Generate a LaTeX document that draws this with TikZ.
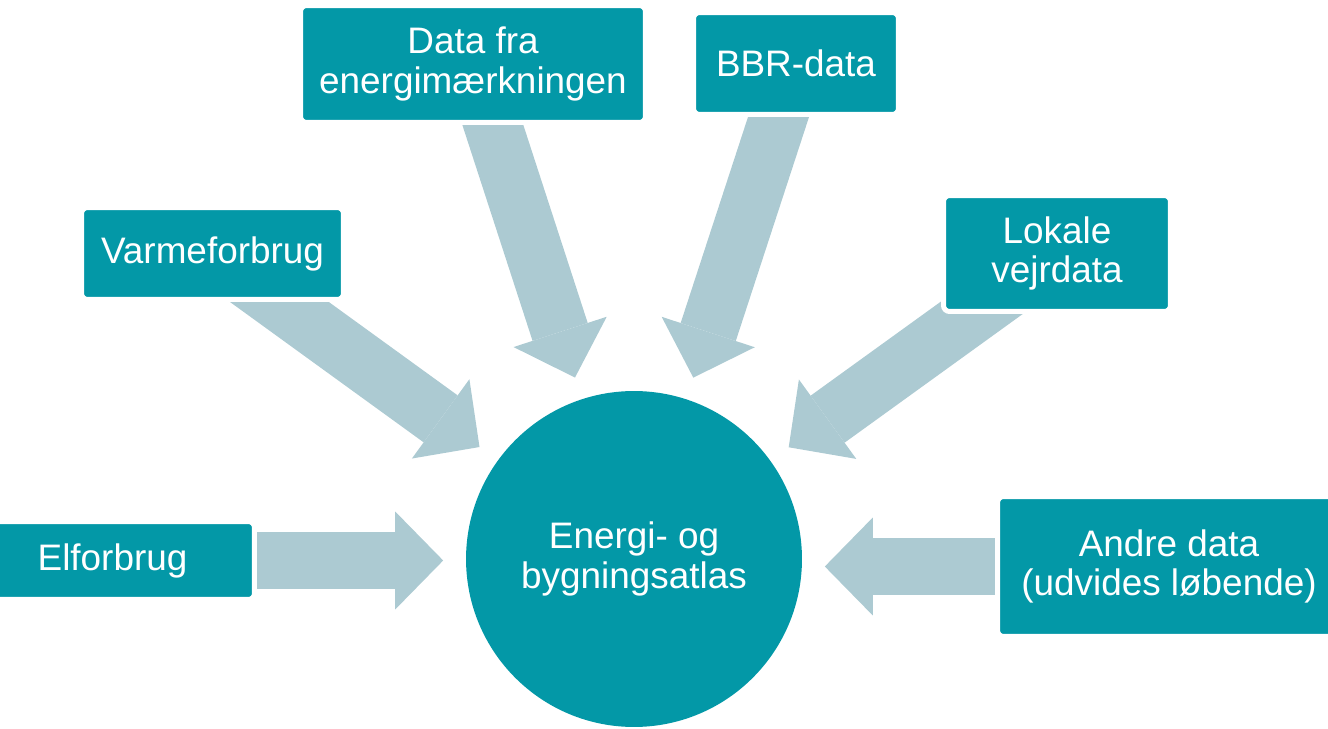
\documentclass[tikz,border=0pt]{standalone}
\usepackage{fontspec}
\setmainfont{Liberation Sans}
\usepackage{tikz}
\usetikzlibrary{positioning}
\usetikzlibrary{shapes,arrows.meta,backgrounds}
\definecolor{atlasteal}{HTML}{0398A7}
\definecolor{feedgrey}{HTML}{ACCAD2}
\tikzstyle{source} = [rectangle, fill=atlasteal, draw=white, line width=0.1cm,
    rounded corners=0.12cm, text=white, align=center, inner sep=0pt,
    font=\fontsize{21}{22.5}\selectfont]
\tikzstyle{hub} = [circle, fill=atlasteal, minimum size=6.72cm, inner sep=0pt,
    text=white, align=center, font=\fontsize{21}{22.5}\selectfont]
\tikzstyle{feed} = [draw=feedgrey, line width=1.16cm, shorten >=0.45cm,
    -{Triangle[width=1.96cm, length=0.96cm, line width=0pt]}]

\begin{document}
\begin{tikzpicture}[x=0.02cm, y=-0.02cm]
        \useasboundingbox (0,0) rectangle (1328,729);
        \node [hub] (atlas) at (634,559) {Energi- og\\bygningsatlas};
        \node [source, minimum width=5.68cm, minimum height=1.56cm] (el) at (112.5,560.5) {Elforbrug};
        \node [source, minimum width=5.24cm, minimum height=1.84cm] (varme) at (212.5,253.5) {Varmeforbrug};
        \node [source, minimum width=6.9cm, minimum height=2.34cm] (energimaerke) at (473,64) {Data fra\\energimærkningen};
        \node [source, minimum width=4.1cm, minimum height=2.04cm] (bbr) at (796,63.5) {BBR-data};
        \node [source, minimum width=4.54cm, minimum height=2.32cm] (vejr) at (1057,253.5) {Lokale\\vejrdata};
        \node [source, minimum width=6.86cm, minimum height=2.8cm] (andre) at (1169,566.5) {Andre data\\(udvides løbende)};
        % arrows
        \begin{scope}[on background layer]
            \path [feed] (el.center) -- (el.center -| atlas.west);
            \path [feed] (varme.center) -- (atlas);
            \path [feed] (energimaerke.center) -- (atlas);
            \path [feed] (bbr.center) -- (atlas);
            \path [feed] (vejr.center) -- (atlas);
            \path [feed] (andre.center) -- (andre.center -| atlas.east);
        \end{scope}
    \end{tikzpicture}
\end{document}
